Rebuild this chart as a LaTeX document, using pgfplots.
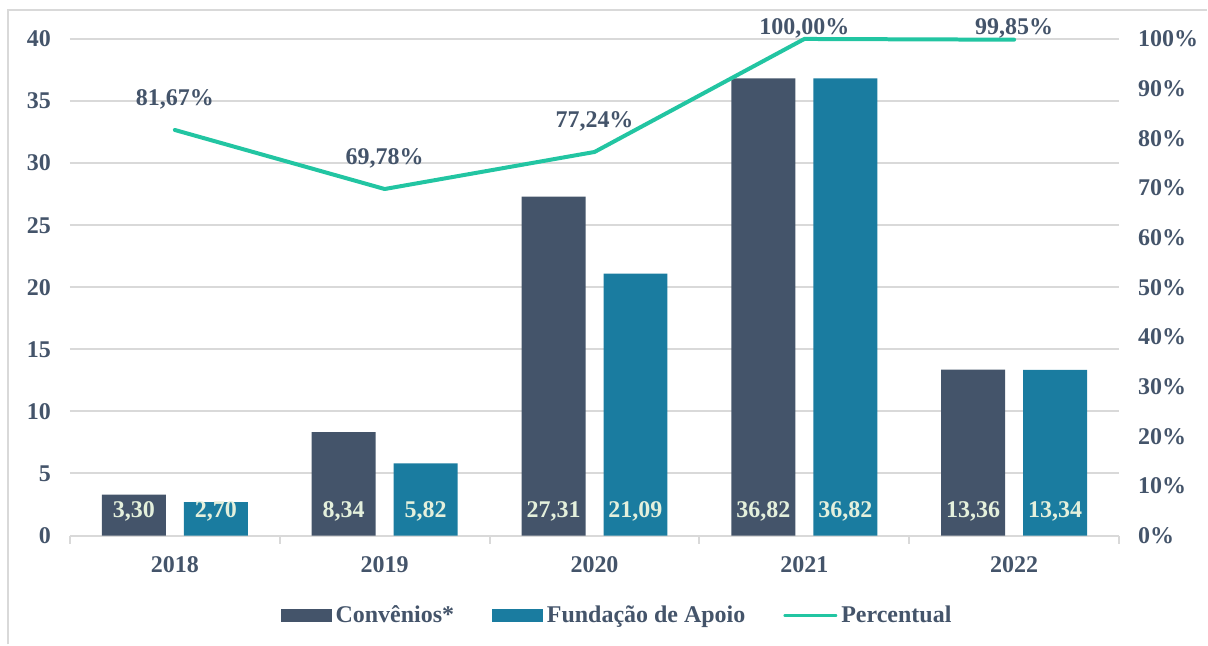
\documentclass[border=0pt]{standalone}
\usepackage{fontspec}
\setmainfont{Liberation Serif}
\usepackage{pgfplots}
\pgfplotsset{compat=1.18}
\definecolor{slate}{HTML}{44546A}
\definecolor{barteal}{HTML}{1A7CA0}
\definecolor{linegreen}{HTML}{22C5A2}
\definecolor{gridgray}{HTML}{D9D9D9}
\definecolor{labelcream}{HTML}{E4F0DC}
\newcommand{\lbl}{\bfseries\fontsize{12}{14}\selectfont}

\begin{document}
\begin{tikzpicture}
\path (0,0) rectangle (604pt,322.5pt);
\draw[gridgray, line width=1pt] (4pt,0) -- (4pt,317.5pt) -- (604pt,317.5pt);

% bars, left axis
\begin{axis}[
    at={(35pt,54.5pt)}, anchor=south west,
    scale only axis, width=525pt, height=248.5pt,
    xmin=-0.5, xmax=4.5, ymin=0, ymax=40,
    axis x line*=bottom, axis y line*=left,
    axis line style={draw=none},
    xtick={0,...,4}, xticklabels={2018,2019,2020,2021,2022},
    minor xtick={-0.5,0.5,...,4.5},
    ytick={0,5,...,40},
    major tick length=0pt, minor tick length=4pt, tick align=outside,
    minor tick style={gridgray, line width=1pt},
    ymajorgrids, major grid style={gridgray, line width=1pt},
    ticklabel style={font=\lbl, text=slate},
    /pgf/number format/assume math mode=true,
    xticklabel style={yshift=-7pt},
    yticklabel style={xshift=-6pt},
    clip=false,
    visualization depends on=y \as \rawy,
    nodes near coords, point meta=explicit symbolic,
    every node near coord/.append style={font=\lbl, text=labelcream, anchor=center,
        shift={(axis direction cs:0,-\rawy)}, yshift=12pt},
]
\addplot[ybar, bar width=32pt, bar shift=-20.5pt, fill=slate, draw=none,
    every node near coord/.append style={xshift=-20.5pt}]
    coordinates {(0,3.30)[3,30] (1,8.34)[8,34] (2,27.31)[27,31] (3,36.82)[36,82] (4,13.36)[13,36]};
\addplot[ybar, bar width=32pt, bar shift=20.5pt, fill=barteal, draw=none,
    every node near coord/.append style={xshift=20.5pt}]
    coordinates {(0,2.70)[2,70] (1,5.82)[5,82] (2,21.09)[21,09] (3,36.82)[36,82] (4,13.34)[13,34]};
\end{axis}

% percentage, right axis
\begin{axis}[
    at={(35pt,54.5pt)}, anchor=south west,
    scale only axis, width=525pt, height=248.5pt,
    xmin=-0.5, xmax=4.5, ymin=0, ymax=100,
    axis x line=none, axis y line*=right,
    axis line style={draw=none},
    ytick={0,10,...,100},
    yticklabel={\pgfmathprintnumber{\tick}\%},
    /pgf/number format/assume math mode=true,
    major tick length=0pt,
    ticklabel style={font=\lbl, text=slate},
    yticklabel style={anchor=west, xshift=6pt},
    clip=false,
    legend columns=3,
    legend cell align=left,
    legend style={at={(0.5225,-0.161)}, anchor=center, draw=none, fill=none,
        font=\lbl, text=slate,
        /tikz/every even column/.append style={column sep=17pt}},
]
\addlegendimage{legend image code/.code={\fill[slate] (0pt,-3pt) rectangle (25pt,3pt);}}
\addlegendentry{Convênios*}
\addlegendimage{legend image code/.code={\fill[barteal] (0pt,-3pt) rectangle (25pt,3pt);}}
\addlegendentry{Fundação de Apoio}
\addplot[linegreen, line width=2pt, line join=round, line cap=round,
    legend image code/.code={\draw[linegreen, line width=2pt] (0pt,0pt) -- (25pt,0pt);}]
    coordinates {(0,81.67) (1,69.78) (2,77.24) (3,100) (4,99.85)};
\addlegendentry{Percentual}
\addplot[draw=none, forget plot, nodes near coords, point meta=explicit symbolic,
    every node near coord/.style={font=\lbl, text=slate, anchor=center, yshift=15.5pt}]
    coordinates {(0,81.67)[81,67\%] (1,69.78)[69,78\%] (2,77.24)[77,24\%]};
\addplot[draw=none, forget plot, nodes near coords, point meta=explicit symbolic,
    every node near coord/.style={font=\lbl, text=slate, anchor=center, yshift=5.5pt}]
    coordinates {(3,100)[100,00\%] (4,99.85)[99,85\%]};
\end{axis}
\end{tikzpicture}
\end{document}
